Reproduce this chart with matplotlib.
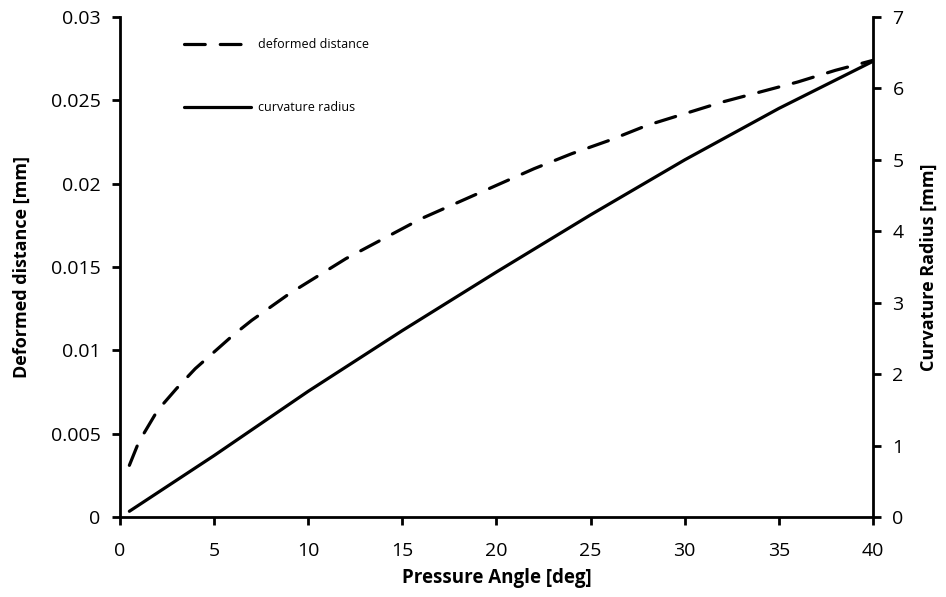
import matplotlib
matplotlib.use("Agg")
import matplotlib.pyplot as plt

# pressure angle [deg] vs deformed distance [mm]
angle_def = [0.5, 1, 2, 3, 4, 5, 6, 7, 8, 9, 10, 12, 14, 16, 18, 20,
             22, 24, 26, 28, 30, 32, 34, 36, 38, 40]
deformed = [0.0031, 0.0045, 0.0064, 0.0077, 0.0089, 0.0099, 0.0109, 0.0118,
            0.0126, 0.0134, 0.0141, 0.0155, 0.0167, 0.0179, 0.0189, 0.0199,
            0.0209, 0.0218, 0.0226, 0.0235, 0.0242, 0.0249, 0.0255, 0.0261,
            0.0268, 0.0274]

# pressure angle [deg] vs curvature radius [mm]
angle_rad = [0.5, 5, 10, 15, 20, 25, 30, 35, 40]
radius = [0.08, 0.86, 1.76, 2.61, 3.43, 4.23, 5.0, 5.72, 6.38]

plt.rcParams['font.family'] = ['Open Sans', 'DejaVu Sans']

fig = plt.figure(figsize=(9.46, 5.97), dpi=100)
ax = fig.add_axes([0.1268, 0.134, 0.796, 0.8375])
ax2 = ax.twinx()

l1, = ax.plot(angle_def, deformed, color="black", lw=2.3,
              dashes=(6.5, 4.7), dash_capstyle="round", label="deformed distance")
l2, = ax2.plot(angle_rad, radius, color="black", lw=2.3,
               solid_capstyle="round", label="curvature radius")

ax.set_xlim(0, 40)
ax.set_ylim(0, 0.03)
ax2.set_ylim(0, 7)
ax.set_xticks(range(0, 41, 5))
ax.set_yticks([0, 0.005, 0.01, 0.015, 0.02, 0.025, 0.03])
ax.set_yticklabels(["0", "0.005", "0.01", "0.015", "0.02", "0.025", "0.03"])
ax2.set_yticks(range(0, 8))

for a in (ax, ax2):
    a.spines["top"].set_visible(False)
    for s in ("left", "right", "bottom"):
        a.spines[s].set_linewidth(2)
    a.tick_params(direction="out", length=6, width=2, labelsize=14, pad=8)
ax.tick_params(axis="x", pad=12)
ax.spines["right"].set_visible(False)
ax2.spines["left"].set_visible(False)
ax2.spines["bottom"].set_visible(False)

ax.set_xlabel("Pressure Angle [deg]", fontsize=13.5, fontweight="bold", labelpad=6)
ax.set_ylabel("Deformed distance [mm]", fontsize=13, fontweight="bold", labelpad=14)
ax2.set_ylabel("Curvature Radius [mm]", fontsize=13, fontweight="bold", labelpad=12)

ax.legend(handles=[l1, l2], loc="upper left", bbox_to_anchor=(0.07, 0.98),
          frameon=False, fontsize=9, handlelength=5.4, labelspacing=4.0,
          handletextpad=0.5)

plt.savefig("out.png", dpi=100)
